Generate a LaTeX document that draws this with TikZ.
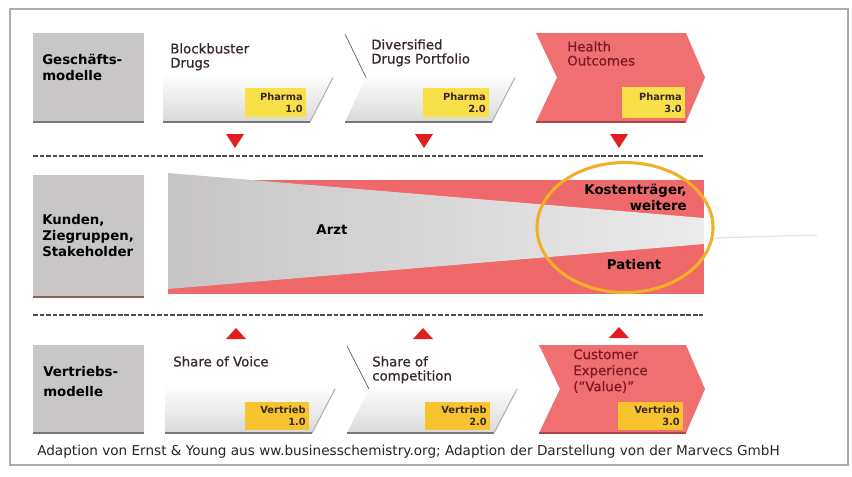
\documentclass[tikz,border=0pt]{standalone}
\usepackage{fontspec}
\setmainfont{DejaVu Sans}
\newfontfamily\semibfont{DejaVu Sans}[FakeBold=0.6]
\definecolor{bandred}{RGB}{239,104,106}
\definecolor{chevred}{RGB}{240,112,114}
\definecolor{chevredD}{RGB}{170,70,72}
\definecolor{boxgray}{RGB}{200,198,198}
\definecolor{boxgrayD}{RGB}{120,118,118}
\definecolor{yelA}{RGB}{250,224,72}
\definecolor{yelB}{RGB}{247,196,48}
\definecolor{maroon}{RGB}{125,25,35}
\definecolor{txtdark}{RGB}{55,40,40}
\definecolor{ellorange}{RGB}{240,176,40}
\definecolor{dashgray}{RGB}{75,75,75}
\definecolor{trired}{RGB}{225,30,30}
\definecolor{bandL}{RGB}{198,196,196}
\definecolor{bandR}{RGB}{236,235,235}
\pgfdeclareverticalshading{chevgrad}{100bp}{color(0bp)=(gray!30); color(25bp)=(gray!30); color(52bp)=(white); color(100bp)=(white)}
\begin{document}
\begin{tikzpicture}[x=0.75pt,y=-0.75pt,
  graybox/.style={fill=boxgray,draw=none},
  boxlabel/.style={anchor=north west,inner sep=0,align=left,font=\bfseries\fontsize{10}{12}\selectfont,text=black},
  chevtext/.style={anchor=north west,inner sep=0,align=left,font=\semibfont\fontsize{10}{10.6}\selectfont,text=txtdark},
  redtext/.style={chevtext,text=maroon},
  ytext/.style={anchor=east,inner sep=0,align=right,font=\bfseries\fontsize{7.4}{9}\selectfont,text=txtdark},
  sepline/.style={draw=dashgray,line width=2.2pt,dash pattern=on 3.6pt off 1.3pt},
  tri/.style={fill=trired,draw=none},
  bandtext/.style={inner sep=0,font=\bfseries\fontsize{10}{12}\selectfont,text=black},
  chevshade/.style={shading=chevgrad},
  bottomedge/.style={draw=boxgrayD,line width=1.3pt},
  rededge/.style={draw=chevredD,line width=1.3pt}
]
\useasboundingbox (0,0) rectangle (852,476);
\fill[white] (0,0) rectangle (852,476);
% frame
\draw[gray!65,line width=1.3pt] (10,9) rectangle (848,465);

% ---------------- row 1 ----------------
\fill[graybox] (33,33) rectangle (144,122);
\draw[bottomedge] (33,122) -- (144,122);
\node[boxlabel] (gm) at (42,54) {Geschäfts-\\modelle};

\shade[chevshade] (163,33) -- (310,33) -- (333,77.5) -- (310,122) -- (163,122) -- cycle;
\draw[bottomedge] (163,122) -- (310,122);
\draw[gray!60,line width=0.8pt] (333,77.5) -- (310,122);
\node[chevtext] (bb) at (170,43) {Blockbuster\\Drugs};
\fill[yelA] (245,88) rectangle (306,117);
\node[ytext] (p1) at (303,103) {Pharma\\1.0};

\shade[chevshade] (345,33) -- (492,33) -- (515,77.5) -- (492,122) -- (345,122) -- (366,77.5) -- cycle;
\draw[bottomedge] (345,122) -- (492,122);
\draw[gray!60,line width=0.8pt] (515,77.5) -- (492,122);
\draw[gray!70!black,line width=0.5pt] (345,34) -- (366,77.5);
\node[chevtext] (dd) at (371,39) {Diversified\\Drugs Portfolio};
\fill[yelA] (423,88) rectangle (489,117);
\node[ytext] (p2) at (486,103) {Pharma\\2.0};

\fill[chevred] (536,33) -- (686,33) -- (705,77.5) -- (686,122) -- (536,122) -- (557,77.5) -- cycle;
\draw[rededge] (536,122) -- (686,122);
\node[redtext] (ho) at (567,41) {Health\\Outcomes};
\fill[yelA] (622,87) rectangle (685,118);
\node[ytext] (p3) at (682,103) {Pharma\\3.0};

% down triangles
\fill[tri] (226,134) -- (244,134) -- (235,148) -- cycle;
\fill[tri] (415,134) -- (433,134) -- (424,148) -- cycle;
\fill[tri] (610,134) -- (628,134) -- (619,148) -- cycle;

\draw[sepline] (33,156) -- (703,156);

% ---------------- row 2 ----------------
\fill[graybox] (33,175) rectangle (144,297);
\draw[draw=boxgrayD!80!red,line width=1.3pt] (33,297) -- (144,297);
\node[boxlabel] (ku) at (42,214) {Kunden,\\Ziegruppen,\\Stakeholder};

\fill[bandred] (168,180) rectangle (704,294);
\shade[left color=bandL,right color=bandR] (168,173) -- (704,218) -- (704,244) -- (168,289) -- cycle;
\node[bandtext] (arzt) at (332,230) {Arzt};
\node[bandtext,anchor=north east,align=right] (kt) at (687,184) {Kostenträger,\\weitere};
\node[bandtext] (pat) at (634,265) {Patient};

\draw[ellorange,line width=2.3pt] (625,227.5) ellipse [x radius=88,y radius=65];
\coordinate (fa) at (713,238);
\coordinate (fb) at (817,235);
\draw[gray!20,line width=1pt] (fa) -- (fb);

\draw[sepline] (33,315) -- (703,315);

% up triangles
\fill[tri] (226,339) -- (246,339) -- (236,328) -- cycle;
\fill[tri] (413,339) -- (433,339) -- (423,328) -- cycle;
\fill[tri] (609,338) -- (629,338) -- (619,327) -- cycle;

% ---------------- row 3 ----------------
\fill[graybox] (33,345) rectangle (144,433);
\draw[bottomedge] (33,433) -- (144,433);
\node[boxlabel,font=\bfseries\fontsize{10}{15}\selectfont] (vm) at (43,366) {Vertriebs-\\modelle};

\shade[chevshade] (165,345) -- (312,345) -- (335,389) -- (312,433) -- (165,433) -- cycle;
\draw[bottomedge] (165,433) -- (312,433);
\draw[gray!60,line width=0.8pt] (335,389) -- (312,433);
\node[chevtext] (sv) at (173,356) {Share of Voice};
\fill[yelB] (245,402) rectangle (309,430);
\node[ytext] (v1) at (306,416) {Vertrieb\\1.0};

\shade[chevshade] (347,345) -- (494,345) -- (517,389) -- (494,433) -- (347,433) -- (369,389) -- cycle;
\draw[bottomedge] (347,433) -- (494,433);
\draw[gray!60,line width=0.8pt] (517,389) -- (494,433);
\draw[gray!70!black,line width=0.5pt] (347,346) -- (369,389);
\node[chevtext] (sc) at (372,356) {Share of\\competition};
\fill[yelB] (425,402) rectangle (490,430);
\node[ytext] (v2) at (487,416) {Vertrieb\\2.0};

\fill[chevred] (539,345) -- (686,345) -- (705,389) -- (686,433) -- (539,433) -- (560,389) -- cycle;
\draw[rededge] (539,433) -- (686,433);
\node[redtext,font=\semibfont\fontsize{10}{12}\selectfont] (ce) at (573,349) {Customer\\Experience\\(“Value)”};
\fill[yelB] (618,402) rectangle (683,430);
\node[ytext] (v3) at (680,416) {Vertrieb\\3.0};

% footer
\node[anchor=base west,inner sep=0,font=\fontsize{10.2}{12}\selectfont,text=black!85] (ft) at (37,455)
 {Adaption von Ernst \& Young aus ww.businesschemistry.org; Adaption der Darstellung von der Marvecs GmbH};
\end{tikzpicture}
\end{document}
